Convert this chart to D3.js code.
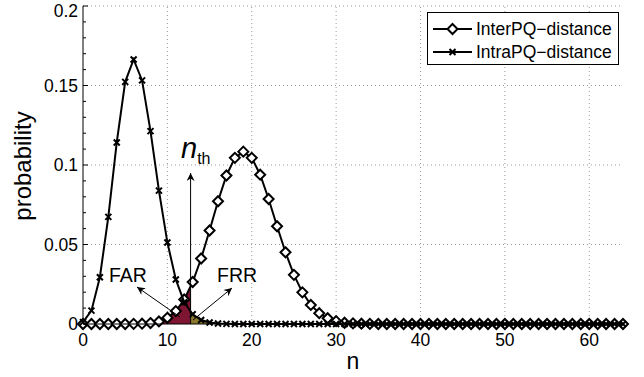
<!DOCTYPE html>
<html>
<head>
<meta charset="utf-8">
<script src="https://cdn.jsdelivr.net/npm/d3@7"></script>
<style>
  body { margin: 0; background: #fff; }
  svg { display: block; font-family: "Liberation Sans", Arial, sans-serif; }
</style>
</head>
<body>
<svg id="chart" width="644" height="377"></svg>
<script>
// n = 0 .. 64
const n_values = d3.range(0, 65);

// InterPQ-distance (diamonds)
const inter_values = [
    0, 0, 0, 0, 0, 0, 0.0001, 0.0002, 0.0006, 0.0016,
    0.0039, 0.0081, 0.0154, 0.0264, 0.0412, 0.0588, 0.0772, 0.0934, 0.1045, 0.1084,
    0.1045, 0.0939, 0.0786, 0.0615, 0.0451, 0.0309, 0.0199, 0.0120, 0.0068, 0.0036,
    0.0018, 0.0008, 0.0004, 0.0002, 0.0001, 0, 0, 0, 0, 0,
    0, 0, 0, 0, 0, 0, 0, 0, 0, 0,
    0, 0, 0, 0, 0, 0, 0, 0, 0, 0,
    0, 0, 0, 0, 0
];

// IntraPQ-distance (x markers)
const intra_values = [
    0.0012, 0.0084, 0.0294, 0.0674, 0.1142, 0.1523, 0.1664, 0.1532, 0.1213, 0.0839,
    0.0513, 0.0280, 0.0137, 0.0061, 0.0025, 0.0009, 0.0003, 0.0001, 0, 0,
    0, 0, 0, 0, 0, 0, 0, 0, 0, 0,
    0, 0, 0, 0, 0, 0, 0, 0, 0, 0,
    0, 0, 0, 0, 0, 0, 0, 0, 0, 0,
    0, 0, 0, 0, 0, 0, 0, 0, 0, 0,
    0, 0, 0, 0, 0
];

const n_threshold = 12.75;

const x_ticks = [0, 10, 20, 30, 40, 50, 60];
const y_ticks = [0, 0.05, 0.1, 0.15, 0.2];
const y_tick_labels = ['0', '0.05', '0.1', '0.15', '0.2'];
const legend_labels = ['InterPQ\u2212distance', 'IntraPQ\u2212distance'];

const far_color = '#7e1633';
const frr_color = '#8b7a2b';

const svg = d3.select('#chart');

const x_scale = d3.scaleLinear().domain([0, 64]).range([83, 623]);
const y_scale = d3.scaleLinear().domain([0, 0.2]).range([324, 6]);

const inter_data = n_values.map((n, i) => ({ n: n, p: inter_values[i] }));
const intra_data = n_values.map((n, i) => ({ n: n, p: intra_values[i] }));

// arrowhead
svg.append('defs').append('marker')
    .attr('id', 'arrow')
    .attr('viewBox', '0 0 10 10')
    .attr('refX', 10).attr('refY', 5)
    .attr('markerWidth', 12).attr('markerHeight', 8)
    .attr('markerUnits', 'userSpaceOnUse')
    .attr('orient', 'auto')
    .append('path')
    .attr('d', 'M0,0 L10,5 L0,10 L3,5 Z')
    .attr('fill', '#000');

let defs = svg.select('defs');
defs.append('clipPath').attr('id', 'clip_far')
    .append('rect')
    .attr('x', x_scale(0)).attr('y', 0)
    .attr('width', x_scale(n_threshold) - x_scale(0)).attr('height', 377);
defs.append('clipPath').attr('id', 'clip_frr')
    .append('rect')
    .attr('x', x_scale(n_threshold)).attr('y', 0)
    .attr('width', x_scale(64) - x_scale(n_threshold)).attr('height', 377);

// grid
let grid = svg.append('g');
grid.selectAll('.vgrid')
    .data(x_ticks.filter((d) => d > 0))
    .enter()
    .append('line')
    .attr('x1', (d) => x_scale(d)).attr('x2', (d) => x_scale(d))
    .attr('y1', y_scale(0)).attr('y2', y_scale(0.2))
    .attr('stroke', '#9a9a9a').attr('stroke-width', 1)
    .attr('stroke-dasharray', '1,3');
grid.selectAll('.hgrid')
    .data(y_ticks.filter((d) => d > 0))
    .enter()
    .append('line')
    .attr('x1', x_scale(0)).attr('x2', x_scale(64))
    .attr('y1', (d) => y_scale(d)).attr('y2', (d) => y_scale(d))
    .attr('stroke', '#9a9a9a').attr('stroke-width', 1)
    .attr('stroke-dasharray', '1,3');

// FAR / FRR areas
let area = d3.area()
    .x((d) => x_scale(d.n))
    .y0(y_scale(0))
    .y1((d) => y_scale(d.p));

svg.append('path')
    .datum(inter_data)
    .attr('d', area)
    .attr('fill', far_color)
    .attr('clip-path', 'url(#clip_far)');

svg.append('path')
    .datum(intra_data)
    .attr('d', area)
    .attr('fill', frr_color)
    .attr('clip-path', 'url(#clip_frr)');

let line = d3.line()
    .x((d) => x_scale(d.n))
    .y((d) => y_scale(d.p));

// InterPQ line + diamonds
svg.append('path')
    .datum(inter_data)
    .attr('d', line)
    .attr('fill', 'none')
    .attr('stroke', '#000')
    .attr('stroke-width', 2);

const diamond = 'M0,-5 L5,0 L0,5 L-5,0 Z';
svg.selectAll('.diamond')
    .data(inter_data)
    .enter()
    .append('path')
    .attr('d', diamond)
    .attr('transform', (d) => `translate(${x_scale(d.n)},${y_scale(d.p)})`)
    .attr('fill', '#fff')
    .attr('stroke', '#000')
    .attr('stroke-width', 2);

// IntraPQ line + x markers
svg.append('path')
    .datum(intra_data)
    .attr('d', line)
    .attr('fill', 'none')
    .attr('stroke', '#000')
    .attr('stroke-width', 2);

const cross = 'M-3,-3 L3,3 M-3,3 L3,-3';
svg.selectAll('.cross')
    .data(intra_data)
    .enter()
    .append('path')
    .attr('d', cross)
    .attr('transform', (d) => `translate(${x_scale(d.n)},${y_scale(d.p)})`)
    .attr('fill', 'none')
    .attr('stroke', '#000')
    .attr('stroke-width', 2);

// threshold arrow
svg.append('line')
    .attr('x1', x_scale(n_threshold)).attr('x2', x_scale(n_threshold))
    .attr('y1', y_scale(0)).attr('y2', 173)
    .attr('stroke', '#000').attr('stroke-width', 1)
    .attr('marker-end', 'url(#arrow)');

let nth = svg.append('text')
    .attr('x', 181).attr('y', 158)
    .style('font-size', '29px');
nth.append('tspan').text('n').style('font-style', 'italic');
nth.append('tspan').text('th').attr('dy', 6).style('font-size', '16px');

// FAR / FRR arrows
svg.append('line')
    .attr('x1', 180).attr('y1', 317).attr('x2', 137).attr('y2', 287)
    .attr('stroke', '#000').attr('stroke-width', 1)
    .attr('marker-end', 'url(#arrow)');
svg.append('line')
    .attr('x1', 193).attr('y1', 320).attr('x2', 232).attr('y2', 288)
    .attr('stroke', '#000').attr('stroke-width', 1)
    .attr('marker-end', 'url(#arrow)');

svg.append('text').attr('x', 109).attr('y', 282).text('FAR').style('font-size', '19.5px');
svg.append('text').attr('x', 217).attr('y', 282).text('FRR').style('font-size', '19.5px');

// axes
let y_axis = svg.append('g');
y_axis.append('line')
    .attr('x1', x_scale(0)).attr('x2', x_scale(0))
    .attr('y1', y_scale(0)).attr('y2', y_scale(0.2))
    .attr('stroke', '#000').attr('stroke-width', 1);
y_axis.selectAll('.minor')
    .data(d3.range(0, 21).map((d) => d / 100))
    .enter()
    .append('line')
    .attr('x1', x_scale(0)).attr('x2', (d, i) => x_scale(0) + (i % 5 == 0 ? 5 : 3))
    .attr('y1', (d) => y_scale(d)).attr('y2', (d) => y_scale(d))
    .attr('stroke', '#000').attr('stroke-width', 1);
y_axis.selectAll('.label')
    .data(y_ticks)
    .enter()
    .append('text')
    .attr('x', 78)
    .attr('y', (d) => Math.max(y_scale(d) + 6.3, 16.5))
    .attr('text-anchor', 'end')
    .text((d, i) => y_tick_labels[i])
    .style('font-size', '17.5px');

let x_axis = svg.append('g');
x_axis.append('line')
    .attr('x1', x_scale(0)).attr('x2', x_scale(64))
    .attr('y1', y_scale(0)).attr('y2', y_scale(0))
    .attr('stroke', '#000').attr('stroke-width', 1);
x_axis.selectAll('.label')
    .data(x_ticks)
    .enter()
    .append('text')
    .attr('x', (d) => x_scale(d))
    .attr('y', 346)
    .attr('text-anchor', 'middle')
    .text((d) => d)
    .style('font-size', '17.5px');

svg.append('text')
    .attr('x', x_scale(32)).attr('y', 369)
    .attr('text-anchor', 'middle')
    .text('n')
    .style('font-size', '23px');

svg.append('text')
    .attr('transform', 'translate(31,166) rotate(-90)')
    .attr('text-anchor', 'middle')
    .text('probability')
    .style('font-size', '24px');

// legend
let legend = svg.append('g');
legend.append('rect')
    .attr('x', 427.5).attr('y', 12.5)
    .attr('width', 191).attr('height', 52)
    .attr('fill', '#fff').attr('stroke', '#000').attr('stroke-width', 1);

let legend_rows = legend.selectAll('.row')
    .data(legend_labels)
    .enter()
    .append('g')
    .attr('transform', (d, i) => `translate(0,${29 + i * 23})`);

legend_rows.append('line')
    .attr('x1', 433).attr('x2', 472).attr('y1', 0).attr('y2', 0)
    .attr('stroke', '#000').attr('stroke-width', 2);
legend_rows.append('path')
    .attr('d', (d, i) => i == 0 ? diamond : cross)
    .attr('transform', 'translate(452.5,0)')
    .attr('fill', (d, i) => i == 0 ? '#fff' : 'none')
    .attr('stroke', '#000')
    .attr('stroke-width', 2);
legend_rows.append('text')
    .attr('x', 476).attr('y', 0).attr('dy', '0.36em')
    .text((d) => d)
    .style('font-size', '17.5px');
</script>
</body>
</html>
